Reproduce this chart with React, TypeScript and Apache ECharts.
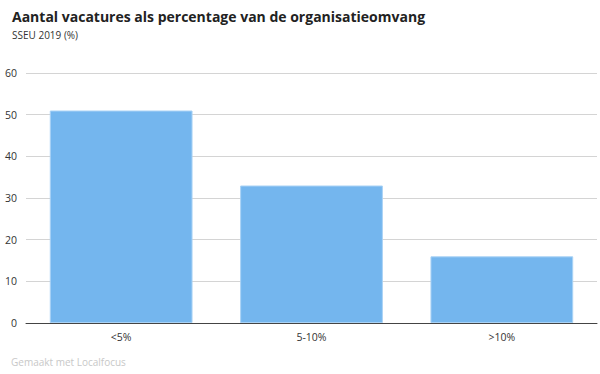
import React, { useEffect, useRef } from "react";
import * as echarts from "echarts";

const categories = ["<5%", "5-10%", ">10%"];
const values = [51, 33, 16];
const yTicks = { min: 0, max: 60, interval: 10 };

export default function App() {
  const ref = useRef<HTMLDivElement>(null);
  useEffect(() => {
    if (!ref.current) return;
    const chart = echarts.init(ref.current, null, { renderer: "svg" });
    const font = "'Open Sans', 'Noto Sans', sans-serif";
    chart.setOption({
      animation: false,
      textStyle: { fontFamily: font },
      title: [
        {
          text: "Aantal vacatures als percentage van de organisatieomvang",
          left: 7,
          top: 4,
          textStyle: { fontFamily: font, fontSize: 14, fontWeight: "bold", color: "#222" },
        },
        {
          text: "SSEU 2019 (%)",
          left: 7,
          top: 25,
          textStyle: { fontFamily: font, fontSize: 10, fontWeight: "normal", color: "#333" },
        },
        {
          text: "Gemaakt met Localfocus",
          left: 6,
          top: 352,
          textStyle: { fontFamily: font, fontSize: 10, fontWeight: "normal", color: "#c8c8c8" },
        },
      ],
      grid: { left: 26, right: 3, top: 73, bottom: 51, containLabel: false },
      xAxis: {
        type: "category",
        data: categories,
        axisLine: { lineStyle: { color: "#444", width: 1 } },
        axisTick: { show: false },
        axisLabel: { color: "#333", fontSize: 10.5, fontFamily: font, margin: 8 },
      },
      yAxis: {
        type: "value",
        min: yTicks.min,
        max: yTicks.max,
        interval: yTicks.interval,
        axisLine: { show: false },
        axisTick: { show: false },
        axisLabel: { color: "#333", fontSize: 10.5, fontFamily: font, margin: 9 },
        splitLine: { lineStyle: { color: "#d4d4d4", width: 1 } },
      },
      series: [
        {
          type: "bar",
          data: values,
          barCategoryGap: "25%",
          itemStyle: { color: "#74b6ee", borderColor: "#a9d2f5", borderWidth: 1 },
        },
      ],
    });
    return () => chart.dispose();
  }, []);
  return (
    <div
      ref={ref}
      style={{ position: "fixed", left: 0, top: 0, width: 600, height: 374, background: "#fff" }}
    />
  );
}
